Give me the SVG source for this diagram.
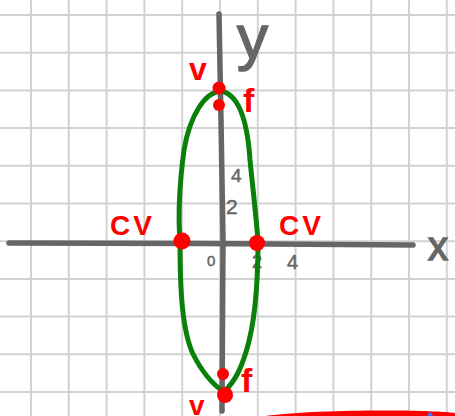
<svg xmlns="http://www.w3.org/2000/svg" width="455" height="416" viewBox="0 0 455 416">
<style>
.grid line{stroke:#d2d2d2;stroke-width:2}
.axis{stroke:#666;stroke-width:5.5;stroke-linecap:round;fill:none}
.axl{fill:#666;stroke:#666;stroke-width:1.5;font-family:"Liberation Sans",Arial,sans-serif}
.tick{fill:#666;stroke:#666;stroke-width:0.5;font-family:"Liberation Sans",Arial,sans-serif}
.red{fill:#ff0000}
.lbl{fill:#ff0000;font-family:"Liberation Sans",Arial,sans-serif;font-weight:bold}
.curve{stroke:#0a7f0a;stroke-width:5;fill:none;stroke-linecap:round}
</style>
<rect width="455" height="416" fill="#fff"/>
<g class="grid">
<line x1="31" y1="0" x2="31" y2="416"/><line x1="68.8" y1="0" x2="68.8" y2="416"/><line x1="106.6" y1="0" x2="106.6" y2="416"/><line x1="144.4" y1="0" x2="144.4" y2="416"/><line x1="182.2" y1="0" x2="182.2" y2="416"/><line x1="220" y1="0" x2="220" y2="416"/><line x1="257.8" y1="0" x2="257.8" y2="416"/><line x1="295.6" y1="0" x2="295.6" y2="416"/><line x1="333.4" y1="0" x2="333.4" y2="416"/><line x1="371.2" y1="0" x2="371.2" y2="416"/><line x1="409" y1="0" x2="409" y2="416"/><line x1="446.8" y1="0" x2="446.8" y2="416"/>
<line x1="0" y1="15" x2="455" y2="15"/><line x1="0" y1="52.7" x2="455" y2="52.7"/><line x1="0" y1="90.4" x2="455" y2="90.4"/><line x1="0" y1="128.1" x2="455" y2="128.1"/><line x1="0" y1="165.8" x2="455" y2="165.8"/><line x1="0" y1="203.5" x2="455" y2="203.5"/><line x1="0" y1="241.2" x2="455" y2="241.2"/><line x1="0" y1="278.9" x2="455" y2="278.9"/><line x1="0" y1="316.6" x2="455" y2="316.6"/><line x1="0" y1="354.3" x2="455" y2="354.3"/><line x1="0" y1="392" x2="455" y2="392"/>
</g>
<g id="axes">
<path class="axis" d="M9,243 L200,243.5 L413,245"/>
<path class="axis" d="M219,14 L221,120 L223,240 L222,411"/>
<text class="axl" x="237" y="58" font-size="62">y</text>
<text class="axl" x="428" y="260" font-size="40">x</text>
<text class="tick" x="231" y="182" font-size="19">4</text>
<text class="tick" x="226" y="214" font-size="21">2</text>
<text class="tick" x="207" y="266" font-size="15">0</text>
<text class="tick" x="252" y="268" font-size="18">2</text>
<text class="tick" x="287" y="269" font-size="20">4</text>
</g>
<g id="ellipse">
<path class="curve" d="M221,91 C205,92 190,115 184,150 C180,180 178,215 180,241 C180,290 182,330 193,354 C202,372 212,384 224,392 C236,380 241,368 246,352 C253,330 258,295 258,241 C256,215 253,190 250,160 C248,130 242,95 221,91 Z"/>
</g>
<g id="vertex-top">
<circle class="red" cx="219" cy="88" r="6.5"/>
<text class="lbl" x="189" y="80" font-size="32">v</text>
</g>
<g id="focus-top">
<circle class="red" cx="219" cy="105" r="6"/>
<text class="lbl" x="243" y="112" font-size="34">f</text>
</g>
<g id="covertex-left">
<circle class="red" cx="182" cy="241" r="8.5"/>
<text class="lbl" x="110" y="235" font-size="28" letter-spacing="3">CV</text>
</g>
<g id="covertex-right">
<circle class="red" cx="257" cy="243" r="8"/>
<text class="lbl" x="279" y="235" font-size="28" letter-spacing="3">CV</text>
</g>
<g id="focus-bottom">
<circle class="red" cx="223" cy="374" r="6"/>
<text class="lbl" x="241" y="392" font-size="34">f</text>
</g>
<g id="vertex-bottom">
<circle class="red" cx="225" cy="395" r="8"/>
<text class="lbl" x="189" y="415" font-size="28">v</text>
</g>
<g id="scribble">
<path class="red" d="M265,416 C300,411 360,410 400,410.5 C430,411 450,412 455,413 L455,416 Z"/>
<circle cx="430" cy="415" r="2.5" fill="#3a6ff0"/>
</g>
</svg>
